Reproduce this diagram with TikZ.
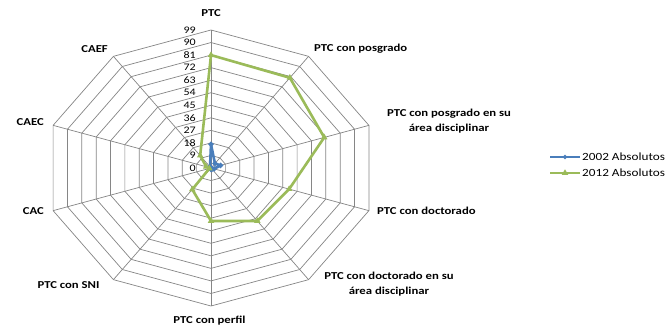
\documentclass[tikz,border=0pt]{standalone}
\usepackage{fontspec}
\setmainfont{Carlito}
\usepackage{graphicx}
\usetikzlibrary{shapes.geometric}

\definecolor{gridgray}{HTML}{868686}
\definecolor{blueA}{HTML}{4A7EBB}
\definecolor{greenB}{HTML}{9BBB59}
\newcommand{\wide}[1]{\scalebox{1.2}[1]{#1}}

\tikzset{
	gridline/.style={gridgray, line width=0.7pt},
	axislabel/.style={inner sep=0pt, align=center, font=\fontsize{10.6}{15}\selectfont\bfseries},
	ticklabel/.style={inner sep=0pt, anchor=east, font=\fontsize{10}{10}\selectfont},
	serieA/.style={blueA, line width=2.6pt, line join=round},
	serieB/.style={greenB, line width=2.6pt, line join=round},
	dmark/.style={diamond, fill=blueA, inner sep=0pt, minimum size=6pt},
	tmark/.style={regular polygon, regular polygon sides=3, fill=greenB, inner sep=0pt, minimum size=7.5pt},
}

\begin{document}
\begin{tikzpicture}[x=1pt, y=-1pt]
	\fill[white] (0,0) rectangle (666,329);
	\useasboundingbox (0,0) rectangle (666,329);
	\coordinate (o) at (211,168);

	\begin{scope}[shift={(o)}, x=1.677pt, y=1.394pt]
		% rings and spokes
		\foreach \r in {9,18,...,99}
			\draw[gridline] (90:\r) \foreach \i in {1,...,9} { -- ({90-36*\i}:\r) } -- cycle;
		\foreach \i in {0,...,9}
			\draw[gridline] (0,0) -- ({90-36*\i}:99);
		\foreach \v in {0,9,...,99}
			\node[ticklabel] at (-9,\v) {\wide{\v}};

		% 2002
		\draw[serieA] (90:17) \foreach \v [count=\i] in {4,6,2,1,1,0,0,0,1} { -- ({90-36*\i}:\v) } -- cycle;
		\foreach \v [count=\i from 0] in {17,4,6,2,1,1,0,0,0,1}
			\node[dmark] at ({90-36*\i}:\v) {};

		% 2012
		\draw[serieB] (90:81) \foreach \v [count=\i] in {80,71,49,47,38,19,1,3,11} { -- ({90-36*\i}:\v) } -- cycle;
		\foreach \v [count=\i from 0] in {81,80,71,49,47,38,19,1,3,11}
			\node[tmark] at ({90-36*\i}:\v) {};
	\end{scope}

	\node[axislabel] (ptc) at (211,13) {\wide{PTC}};
	\node[axislabel, anchor=west] (posgrado) at (314,49) {\wide{PTC con posgrado}};
	\node[axislabel] (posarea) at (449,121.5) {\wide{PTC con posgrado en su}\\\wide{área disciplinar}};
	\node[axislabel, anchor=west] (doctorado) at (377,211) {\wide{PTC con doctorado}};
	\node[axislabel] (docarea) at (389,284.5) {\wide{PTC con doctorado en su}\\\wide{área disciplinar}};
	\node[axislabel] (perfil) at (209.5,321) {\wide{PTC con perfil}};
	\node[axislabel] (sni) at (68.5,285) {\wide{PTC con SNI}};
	\node[axislabel, anchor=east] (cac) at (44,211) {\wide{CAC}};
	\node[axislabel, anchor=east] (caec) at (44,122) {\wide{CAEC}};
	\node[axislabel, anchor=east] (caef) at (108,49) {\wide{CAEF}};

	% legend
	\coordinate (legA) at (550,157);
	\coordinate (legB) at (550,173);
	\draw[serieA] (legA) -- ++(30,0) node[midway, dmark] {};
	\node[anchor=west, inner sep=0pt, font=\fontsize{11}{12}\selectfont] (keyA) at (582,157) {\wide{2002 Absolutos}};
	\draw[serieB] (legB) -- ++(30,0) node[midway, tmark] {};
	\node[anchor=west, inner sep=0pt, font=\fontsize{11}{12}\selectfont] (keyB) at (582,173) {\wide{2012 Absolutos}};
\end{tikzpicture}
\end{document}
